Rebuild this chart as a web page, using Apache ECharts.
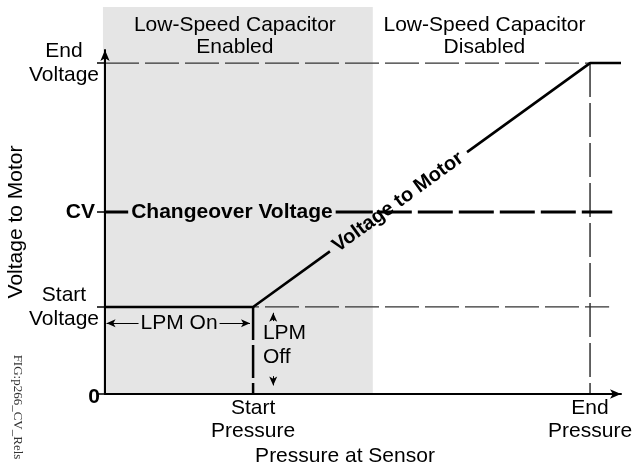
<!DOCTYPE html>
<html><head><meta charset="utf-8">
<script src="https://cdn.jsdelivr.net/npm/echarts@6/dist/echarts.min.js"></script>
<style>html,body{margin:0;padding:0;background:#fff}#c{width:635px;height:470px}</style>
</head><body><div id="c"></div>
<script>
// ---- data ----
const startPressure = 28.7;
const endPressure = 94.0;
const shadeEnd = 51.9;
const startVoltage = 25.3;
const changeoverVoltage = 52.9;
const endVoltage = 96.2;
const xTickValues = [startPressure, endPressure];
const xTickLabels = ['Start\nPressure', 'End\nPressure'];
const yTickValues = [0, startVoltage, changeoverVoltage, endVoltage];
const yTickLabels = ['0', 'Start\nVoltage', 'CV', 'End\nVoltage'];
const motorPressure = [0, startPressure, endPressure, 100];
const motorVoltage = [startVoltage, startVoltage, endVoltage, endVoltage];
const regionLabels = ['Low-Speed Capacitor\nEnabled', 'Low-Speed Capacitor\nDisabled'];

// ---- chart ----
const FONT = '"Liberation Sans", Arial, sans-serif';
const chart = echarts.init(document.getElementById('c'), null, {renderer: 'canvas'});
function nearestIdx(arr, v) {
  let b = 0; for (let i = 1; i < arr.length; i++) if (Math.abs(arr[i] - v) < Math.abs(arr[b] - v)) b = i; return b;
}
const motor = motorPressure.map((x, i) => [x, motorVoltage[i]]);
function onRamp(t) {
  const a = motor[1], b = motor[2];
  return [a[0] + (b[0] - a[0]) * t, a[1] + (b[1] - a[1]) * t];
}
const gapA = 0.228, gapB = 0.635;
const motorPart1 = [motor[0], motor[1], onRamp(gapA)];
const motorPart2 = [onRamp(gapB), motor[2], motor[3]];

function lineSeries(data, style, extra) {
  return Object.assign({
    type: 'line', data: data, symbol: 'none', silent: true, clip: false,
    lineStyle: style, z: 3, animation: false
  }, extra || {});
}
const thin = {color: '#333', width: 1.2, type: [34, 6]};

const option = {
  backgroundColor: '#fff',
  animation: false,
  grid: {left: 105, right: 14, top: 50, bottom: 76, containLabel: false, outerBoundsMode: 'none'},
  xAxis: {
    type: 'value', min: 0, max: 100, z: 10,
    axisLine: {show: true, symbol: ['none', 'arrow'], symbolSize: [7, 11], lineStyle: {color: '#000', width: 2}},
    axisTick: {show: false}, splitLine: {show: false},
    axisLabel: {
      customValues: xTickValues, color: '#000', fontSize: 21, lineHeight: 23, fontFamily: FONT, margin: 3,
      formatter: v => xTickLabels[nearestIdx(xTickValues, v)]
    },
    name: 'Pressure at Sensor', nameLocation: 'middle', nameGap: 52, nameMoveOverlap: false,
    nameTextStyle: {color: '#000', fontSize: 21, fontFamily: FONT, padding: [0, 36, 0, 0]}
  },
  yAxis: {
    type: 'value', min: 0, max: 100, z: 10,
    axisLine: {show: true, symbol: ['none', 'arrow'], symbolSize: [7, 11], lineStyle: {color: '#000', width: 2}},
    axisTick: {show: true, customValues: yTickValues, length: 8, lineStyle: {color: '#000', width: 1.5}},
    splitLine: {show: false},
    axisLabel: {
      customValues: yTickValues, color: '#000', fontSize: 21, fontFamily: FONT, margin: 5,
      formatter: v => {
        const s = yTickLabels[nearestIdx(yTickValues, v)];
        if (s.indexOf('\n') >= 0) return s.split('\n').map(t => '{c|' + t + '}').join('\n');
        return s === '0' ? '{z|' + s + '}' : '{b|' + s + '}';
      },
      rich: {
        c: {width: 72, align: 'center', fontSize: 21, lineHeight: 24, fontFamily: FONT, color: '#000'},
        b: {fontWeight: 'bold', fontSize: 21, fontFamily: FONT, color: '#000', padding: [0, 5, 0, 0]},
        z: {fontWeight: 'bold', fontSize: 21, fontFamily: FONT, color: '#000', padding: [6, 0, 0, 0]}
      }
    },
    name: 'Voltage to Motor', nameLocation: 'middle', nameGap: 78, nameRotate: 90, nameMoveOverlap: false,
    nameTextStyle: {color: '#000', fontSize: 21, fontFamily: FONT}
  },
  graphic: [{
    type: 'text', x: 17, y: 407, rotation: -Math.PI / 2,
    style: {text: 'FIG:p266_CV_Rels', font: '13px "Liberation Serif", "Times New Roman", serif', fill: '#333', align: 'center', verticalAlign: 'middle'}
  }],
  series: [
    // shaded region + region titles
    {
      type: 'custom', clip: false, silent: true, z: 0, animation: false,
      data: [[-0.4, shadeEnd, 0], [shadeEnd, endPressure, 1]],
      renderItem: function (params, api) {
        const i = api.value(2);
        const p0 = api.coord([api.value(0), 112.5]);
        const p1 = api.coord([api.value(1), 0]);
        return {
          type: 'group', children: [
            {type: 'rect', shape: {x: p0[0], y: p0[1], width: p1[0] - p0[0], height: p1[1] - p0[1]},
              style: {fill: i === 0 ? '#e5e5e5' : 'rgba(0,0,0,0)'}},
            {type: 'text', x: (p0[0] + p1[0]) / 2 + (i === 0 ? -3 : 3), y: p0[1] + 7,
              style: {text: regionLabels[i], fill: '#000', font: '21px ' + FONT, align: 'center', verticalAlign: 'top', lineHeight: 22}}
          ]
        };
      }
    },
    lineSeries([[0, startVoltage], [97.7, startVoltage]], thin),
    lineSeries([[0, endVoltage], [100, endVoltage]], thin),
    lineSeries([[endPressure, endVoltage], [endPressure, 0]], {color: '#333', width: 1.5, type: [34, 6]}),
    lineSeries([[0, changeoverVoltage], [shadeEnd, changeoverVoltage]], {color: '#000', width: 3}),
    lineSeries([[shadeEnd, changeoverVoltage], [98.3, changeoverVoltage]], {color: '#000', width: 3, type: [35, 6], dashOffset: 37}),
    lineSeries([[startPressure, startVoltage], [startPressure, 0]], {color: '#000', width: 2.5, type: [33, 5]}),
    lineSeries(motorPart1, {color: '#000', width: 2.6}, {z: 4}),
    lineSeries(motorPart2, {color: '#000', width: 2.6}, {z: 4}),
    // LPM arrows
    {
      type: 'line', data: [], silent: true, z: 5,
      markLine: {
        silent: true, symbol: ['arrow', 'arrow'], symbolSize: [6, 9], animation: false,
        lineStyle: {color: '#000', width: 1, type: 'solid', opacity: 1}, itemStyle: {color: '#000', opacity: 1}, label: {show: false},
        data: [
          [{coord: [0.3, 20.6]}, {coord: [startPressure - 0.6, 20.6]}],
          [{coord: [32.6, 21.2], symbol: 'none'}, {coord: [32.6, 23.6], symbol: 'arrow'}],
          [{coord: [32.6, 5.2], symbol: 'none'}, {coord: [32.6, 2.5], symbol: 'arrow'}]
        ]
      }
    },
    // text annotations
    {
      type: 'scatter', symbol: 'circle', symbolSize: 0, itemStyle: {color: '#000', opacity: 1},
      silent: true, z: 6, clip: false, animation: false,
      data: [
        {value: [24.6, changeoverVoltage], label: {formatter: 'Changeover Voltage', fontWeight: 'bold', backgroundColor: '#e5e5e5', padding: [0, 3]}},
        {value: [startPressure / 2, 20.6], label: {formatter: 'LPM On', backgroundColor: '#e5e5e5', padding: [0, 2]}},
        {value: [30.6, 14.2], label: {formatter: 'LPM\nOff', align: 'left', lineHeight: 24}},
        {value: onRamp(0.43), label: {formatter: 'Voltage to Motor', fontWeight: 'bold', fontSize: 20, rotate: 36}}
      ],
      label: {show: true, position: 'inside', color: '#000', opacity: 1, fontSize: 21, fontFamily: FONT, align: 'center', verticalAlign: 'middle'}
    }
  ]
};
chart.setOption(option);
</script>
</body></html>
